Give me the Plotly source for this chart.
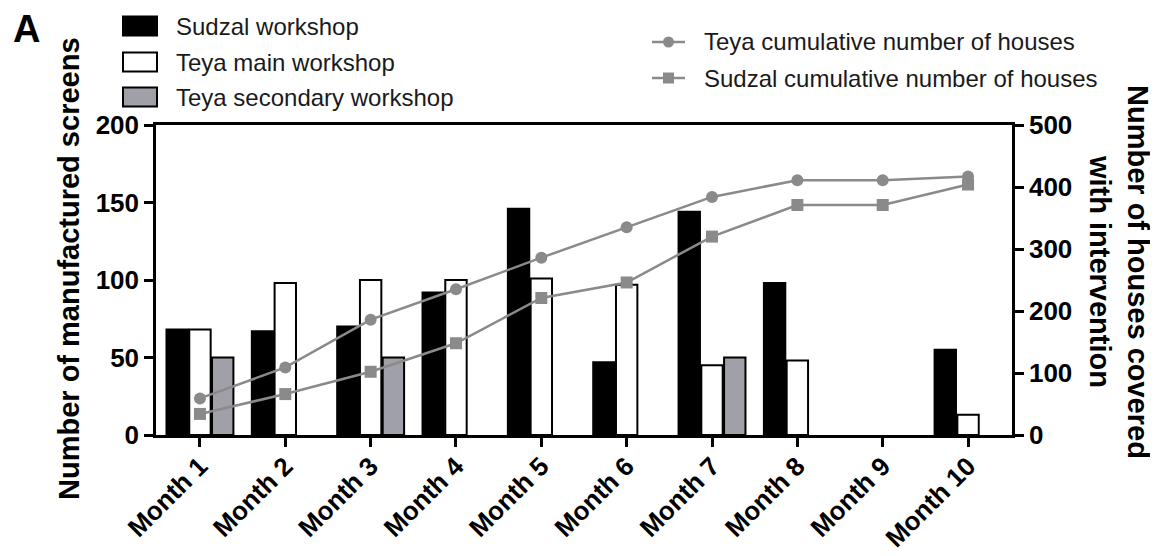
import plotly.graph_objects as go

months = ["Month 1", "Month 2", "Month 3", "Month 4", "Month 5",
          "Month 6", "Month 7", "Month 8", "Month 9", "Month 10"]
sudzal_workshop = [68, 67, 70, 92, 146, 47, 144, 98, None, 55]
teya_main_workshop = [68, 98, 100, 100, 101, 97, 45, 48, None, 13]
teya_secondary_workshop = [50, None, 50, None, None, None, 50, None, None, None]
teya_cumulative = [59, 109, 186, 235, 286, 335, 384, 411, 411, 417]
sudzal_cumulative = [34, 66, 102, 148, 221, 246, 320, 371, 371, 404]
left_ticks = [0, 50, 100, 150, 200]
right_ticks = [0, 100, 200, 300, 400, 500]

FONT = "Liberation Sans, Arial, sans-serif"
GRAY_LINE = "#8a8a8a"
GRAY_BAR = "#a0a0a8"

# page offset of the plotly div (default body margin)
OFF = 8
# plot area in page pixels
L, R, T, B = 156, 1012, 125, 435
W, H = 1158 - OFF, 556 - OFF


def xp(px):
    return (px - L) / (R - L)


def yp(py):
    return (B - py) / (B - T)


fig = go.Figure()
bar_specs = [
    ("Sudzal workshop", sudzal_workshop, "black"),
    ("Teya main workshop", teya_main_workshop, "white"),
    ("Teya secondary workshop", teya_secondary_workshop, GRAY_BAR),
]
for name, vals, col in bar_specs:
    fig.add_trace(go.Bar(x=months, y=vals, name=name,
                         marker=dict(color=col, line=dict(color="black", width=2)),
                         showlegend=False))

line_specs = [
    ("Teya cumulative number of houses", teya_cumulative, "circle"),
    ("Sudzal cumulative number of houses", sudzal_cumulative, "square"),
]
for name, vals, sym in line_specs:
    fig.add_trace(go.Scatter(x=months, y=vals, name=name, yaxis="y2", mode="lines+markers",
                             line=dict(color=GRAY_LINE, width=2.5),
                             marker=dict(symbol=sym, size=12, color=GRAY_LINE),
                             showlegend=False))

shapes = []
annotations = []

# left legend (bars)
rows = [26, 62, 97]
for (name, _, col), cy in zip(bar_specs, rows):
    shapes.append(dict(type="rect", xref="paper", yref="paper",
                       x0=xp(123), x1=xp(157), y0=yp(cy + 9.5), y1=yp(cy - 9.5),
                       fillcolor=col, line=dict(color="black", width=2)))
    annotations.append(dict(text=name, xref="paper", yref="paper", x=xp(174), y=yp(cy),
                            xanchor="left", yanchor="middle", showarrow=False,
                            font=dict(family=FONT, size=24, color="#1a1a1a")))

# right legend (lines)
rows2 = [42, 78]
for (name, _, sym), cy in zip(line_specs, rows2):
    shapes.append(dict(type="line", xref="paper", yref="paper",
                       x0=xp(652), x1=xp(685), y0=yp(cy), y1=yp(cy),
                       line=dict(color=GRAY_LINE, width=2.5)))
    shapes.append(dict(type="circle" if sym == "circle" else "rect", xref="paper", yref="paper",
                       x0=xp(663), x1=xp(674), y0=yp(cy + 5.5), y1=yp(cy - 5.5),
                       fillcolor=GRAY_LINE, line=dict(color=GRAY_LINE, width=0)))
    annotations.append(dict(text=name, xref="paper", yref="paper", x=xp(702), y=yp(cy),
                            xanchor="left", yanchor="middle", showarrow=False,
                            font=dict(family=FONT, size=24, color="#1a1a1a")))

# panel letter
annotations.append(dict(text="<b>A</b>", xref="paper", yref="paper", x=xp(26), y=yp(29),
                        xanchor="center", yanchor="middle", showarrow=False,
                        font=dict(family=FONT, size=38, color="black")))

# axis titles
annotations.append(dict(text="<b>Number of manufactured screens</b>", xref="paper", yref="paper",
                        x=xp(69), y=yp(269), xanchor="center", yanchor="middle", textangle=-90,
                        showarrow=False, font=dict(family=FONT, size=29, color="black")))
annotations.append(dict(text="<b>Number of houses covered<br>with intervention</b>", xref="paper",
                        yref="paper", x=xp(1119), y=yp(272), xanchor="center", yanchor="middle",
                        textangle=90, showarrow=False, align="center",
                        font=dict(family=FONT, size=29, color="black")))

axis_common = dict(showline=True, linecolor="black", linewidth=2.5, ticks="outside",
                   tickcolor="black", tickwidth=2.5, ticklen=9, showgrid=False, zeroline=False,
                   tickfont=dict(family=FONT, size=26, color="black", weight="bold"))

xaxis_cfg = dict(axis_common)
xaxis_cfg["tickfont"] = dict(family=FONT, size=26, color="black", weight="bold")

fig.update_layout(
    width=W, height=H,
    margin=dict(l=L - OFF, r=(1158 - R), t=T - OFF, b=(556 - B), autoexpand=False),
    paper_bgcolor="white", plot_bgcolor="white",
    barmode="group", bargap=0.2, bargroupgap=0.06,
    showlegend=False,
    xaxis=dict(**xaxis_cfg, range=[-0.515, 9.515], tickangle=-45, mirror=True, type="category",
               ticklabelstandoff=-6),
    yaxis=dict(**axis_common, range=[0, 200], tickvals=left_ticks),
    yaxis2=dict(**axis_common, range=[0, 500], tickvals=right_ticks, overlaying="y", side="right"),
    shapes=shapes,
    annotations=annotations,
)

fig.write_html("out.html")
